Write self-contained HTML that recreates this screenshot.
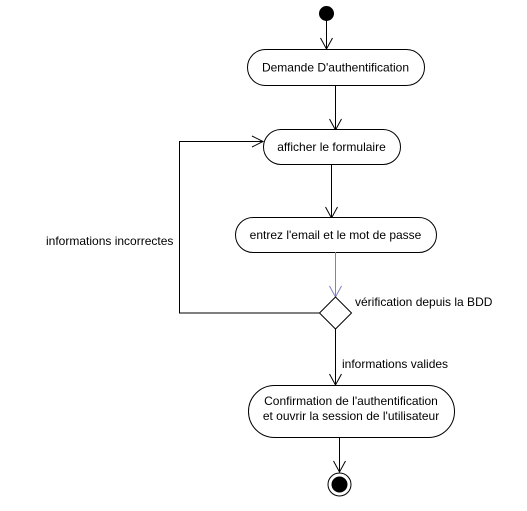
<!DOCTYPE html>
<html><head><style>html,body{margin:0;padding:0;background:#fff}svg{display:block}text{font-family:"Liberation Sans",sans-serif;font-size:12px;fill:#000}</style></head><body>
<svg width="527" height="511" viewBox="0 0 527 511" xmlns="http://www.w3.org/2000/svg">
<g fill="none" stroke="#000" stroke-width="1">
<circle cx="326.5" cy="13.5" r="7" fill="#000"/>
<line x1="326.5" y1="20" x2="326.5" y2="49"/>
<polyline points="320.5,38 326.5,49 332.5,38"/>
<rect x="247.5" y="49.5" width="177" height="36" rx="18" fill="#fff"/>
<line x1="335.5" y1="85" x2="335.5" y2="130"/>
<polyline points="329.5,119 335.5,130 341.5,119"/>
<rect x="263.5" y="129.5" width="137" height="35" rx="17.5" fill="#fff"/>
<polyline points="320,313 179.5,313 179.5,141.5 263,141.5"/>
<polyline points="252,136 263,141.5 252,147"/>
<line x1="331.5" y1="164" x2="331.5" y2="218"/>
<polyline points="325.5,207 331.5,218 337.5,207"/>
<rect x="235.5" y="217.5" width="201" height="35" rx="17.5" fill="#fff"/>
<g stroke="#8080c0"><line x1="335.5" y1="252" x2="335.5" y2="297"/>
<polyline points="329.5,286 335.5,297 341.5,286"/></g>
<polygon points="335.5,297 351.5,313 335.5,329 319.5,313" fill="#fff"/>
<line x1="335.5" y1="329" x2="335.5" y2="385"/>
<polyline points="329.5,374 335.5,385 341.5,374"/>
<rect x="248.5" y="385.5" width="206" height="52" rx="26" fill="#fff"/>
<line x1="339.5" y1="437" x2="339.5" y2="472"/>
<polyline points="333.5,461 339.5,472 345.5,461"/>
<circle cx="339.5" cy="484.5" r="11.5" fill="#fff"/>
<circle cx="339.5" cy="484.5" r="7.5" fill="#000"/>
</g>
<text x="335.5" y="71.5" text-anchor="middle">Demande D'authentification</text>
<text x="331.5" y="151" text-anchor="middle">afficher le formulaire</text>
<text x="335.5" y="239" text-anchor="middle">entrez l'email et le mot de passe</text>
<text x="355" y="306">vérification depuis la BDD</text>
<text x="342" y="368">informations valides</text>
<text x="46" y="245">informations incorrectes</text>
<text x="351" y="405" text-anchor="middle">Confirmation de l'authentification</text>
<text x="351" y="420" text-anchor="middle">et ouvrir la session de l'utilisateur</text>
</svg>
</body></html>
